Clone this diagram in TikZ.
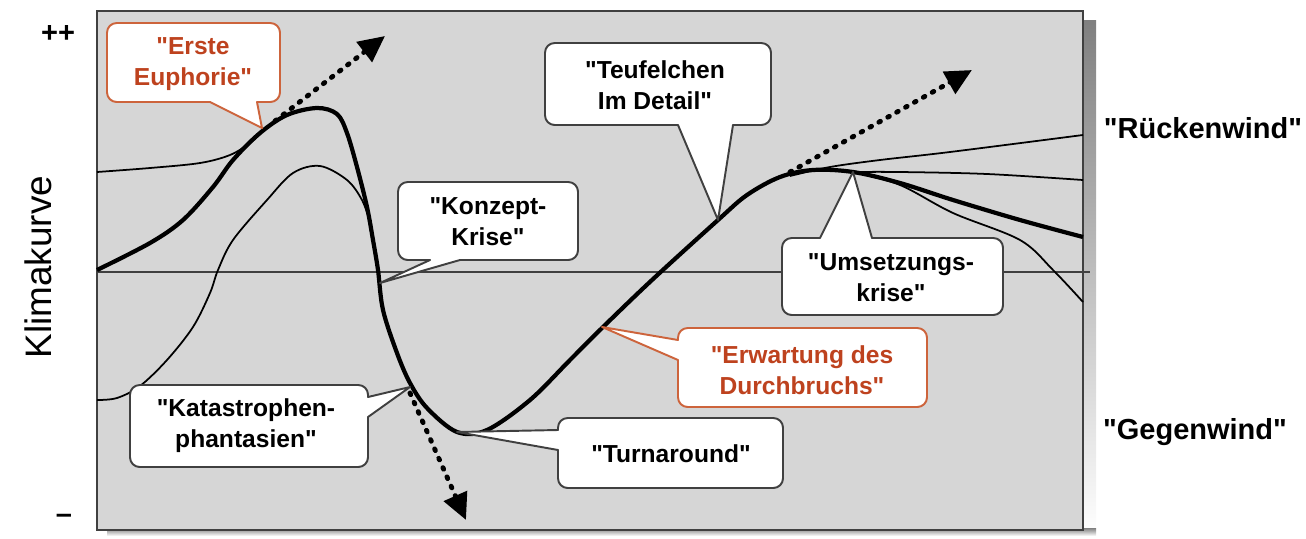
\documentclass[tikz,border=0pt]{standalone}
\usepackage{fontspec}
\setmainfont{Liberation Sans}[Ligatures=TeXOff]
\usetikzlibrary{arrows.meta}
\definecolor{panel}{RGB}{214,214,214}
\definecolor{shade}{RGB}{140,140,140}
\definecolor{frame}{RGB}{64,64,64}
\definecolor{rust}{RGB}{190,66,30}
\definecolor{rustline}{RGB}{205,100,60}
\begin{document}
\begin{tikzpicture}[x=0.02cm,y=-0.02cm,
  thin curve/.style={line width=1pt,black},
  main curve/.style={line width=2.4pt,black},
  tangent/.style={line width=2.8pt,dash pattern=on 1pt off 4.8pt,line cap=round,
    -{Triangle[length=15pt,width=14pt]}},
  bubble/.style={line width=1.1pt,draw=frame,line cap=round,line join=round},
  redbubble/.style={bubble,draw=rustline},
  ctext/.style={align=center,font=\bfseries\fontsize{14}{17.5}\selectfont,inner sep=0pt},
  side/.style={font=\bfseries\fontsize{16.5}{20}\selectfont,inner sep=0pt},
  box corners/.style={rounded corners=5.5pt}]
\useasboundingbox (0,0) rectangle (1306,538);

% panel with drop shadow
\fill[shade] (1083,20) rectangle (1096,536);
\fill[shade] (107,528) rectangle (1096,536);
\filldraw[fill=panel,draw=frame,line width=1.2pt] (97,11) rectangle (1083,530);
\draw[frame,line width=0.9pt] (97,272) -- (1090,272);

% climate curves
\draw[thin curve] plot[smooth,tension=0.55] coordinates {(97,172) (150,168) (200,163) (230,155) (250,143) (262,132)};
\draw[thin curve] plot[smooth,tension=0.55] coordinates {(97,400) (117,398) (140,386) (167,360) (193,327) (210,293) (218,270) (233,240) (267,200) (293,173) (320,166) (347,180) (362,200) (370,222)};
\draw[thin curve] plot[smooth,tension=0.55] coordinates {(790,176) (830,167) (880,160) (950,152) (1083,135)};
\draw[thin curve] plot[smooth,tension=0.55] coordinates {(853,172) (900,172) (987,174) (1083,180)};
\draw[thin curve] plot[smooth,tension=0.55] coordinates {(853,172) (900,185) (953,213) (1020,240) (1053,270) (1083,302)};
\draw[main curve] plot[smooth,tension=0.55] coordinates {(97,270) (150,243) (183,220) (213,187) (233,160) (260,133) (287,115) (317,108) (337,114) (347,133) (357,167) (367,207) (373,240) (378,270) (383,310) (397,353) (410,383) (427,408) (457,432) (487,430) (530,400) (570,360) (602,328) (652,280) (718,220) (747,195) (780,177) (813,170) (853,172) (900,183) (953,200) (1020,220) (1083,237)};

% extrapolated trends
\coordinate (e1) at (275,121); \coordinate (e1h) at (385,36);
\coordinate (e2) at (410,393); \coordinate (e2h) at (466,520);
\coordinate (e3) at (790,172); \coordinate (e3h) at (972,70);
\draw[tangent] (e1) -- (e1h);
\draw[tangent] (e2) -- (e2h);
\draw[tangent] (e3) -- (e3h);

% callout: Erste Euphorie
\fill[white,box corners] (107,23) rectangle (280,102);
\fill[white] (210,101) -- (262,128) -- (257,101) -- cycle;
\draw[redbubble,box corners] (257,102) -- (280,102) -- (280,23) -- (107,23) -- (107,102) -- (210,102);
\draw[redbubble] (210,102) -- (262,128) -- (257,102);
\node[ctext,text=rust] (erste) at (193,64) {"Erste\\Euphorie"};

% callout: Konzept-Krise
\fill[white,box corners] (398,182) rectangle (578,260);
\fill[white] (430,259) -- (380,283) -- (460,259) -- cycle;
\draw[bubble,box corners] (460,260) -- (578,260) -- (578,182) -- (398,182) -- (398,260) -- (430,260);
\draw[bubble] (430,260) -- (380,283) -- (460,260);
\node[ctext] (konzept) at (488,222) {"Konzept-\\Krise"};

% callout: Teufelchen im Detail
\fill[white,box corners] (545,43) rectangle (771,125);
\fill[white] (678,124) -- (718,220) -- (733,124) -- cycle;
\draw[bubble,box corners] (733,125) -- (771,125) -- (771,43) -- (545,43) -- (545,125) -- (678,125);
\draw[bubble] (678,125) -- (718,220) -- (733,125);
\node[ctext] (teufel) at (655,85) {"Teufelchen\\Im Detail"};

% callout: Umsetzungskrise
\fill[white,box corners] (782,238) rectangle (1003,315);
\fill[white] (820,239) -- (853,172) -- (872,239) -- cycle;
\draw[bubble,box corners] (820,238) -- (782,238) -- (782,315) -- (1003,315) -- (1003,238) -- (872,238);
\draw[bubble] (820,238) -- (853,172) -- (872,238);
\node[ctext] (umsetz) at (891,278) {"Umsetzungs-\\krise"};

% callout: Katastrophenphantasien
\fill[white,box corners] (130,385) rectangle (368,467);
\fill[white] (367,397) -- (410,387) -- (367,417) -- cycle;
\draw[bubble,box corners] (368,417) -- (368,467) -- (130,467) -- (130,385) -- (368,385) -- (368,397);
\draw[bubble] (368,397) -- (410,387) -- (368,417);
\node[ctext] (katas) at (246,426) {"Katastrophen-\\phantasien"};

% callout: Turnaround
\fill[white,box corners] (558,418) rectangle (783,488);
\fill[white] (559,430) -- (457,432) -- (559,450) -- cycle;
\draw[bubble,box corners] (558,450) -- (558,488) -- (783,488) -- (783,418) -- (558,418) -- (558,430);
\draw[bubble] (558,430) -- (457,432) -- (558,450);
\node[ctext] (turn) at (671,454) {"Turnaround"};

% callout: Erwartung des Durchbruchs
\fill[white,box corners] (678,328) rectangle (927,407);
\fill[white] (679,340) -- (602,327) -- (679,360) -- cycle;
\draw[redbubble,box corners] (678,360) -- (678,407) -- (927,407) -- (927,328) -- (678,328) -- (678,340);
\draw[redbubble] (678,340) -- (602,327) -- (678,360);
\node[ctext,text=rust] (erwart) at (802,370) {"Erwartung des\\Durchbruchs"};

% axis labels
\node[side] (plus) at (58,34) {++};
\node[side] (minus) at (64,519) {–};
\node[rotate=90,font=\fontsize{21}{24}\selectfont,inner sep=0pt] (axis) at (38,267) {Klimakurve};
\node[side] (rueck) at (1203,128) {"Rückenwind"};
\node[side] (gegen) at (1195,432) {"Gegenwind"};
\end{tikzpicture}
\end{document}
